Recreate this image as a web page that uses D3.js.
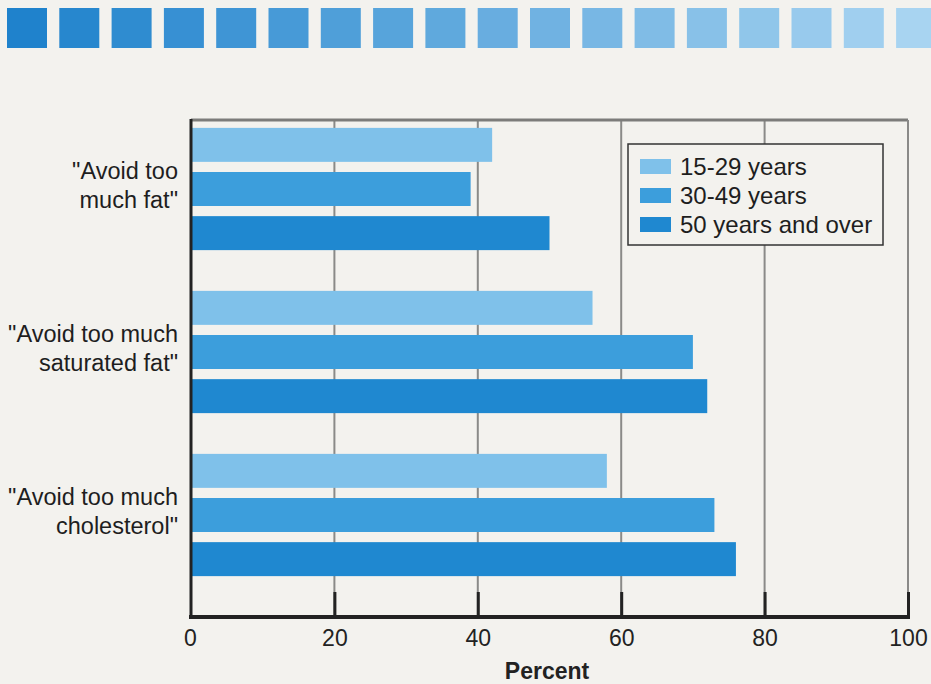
<!DOCTYPE html>
<html><head><meta charset="utf-8">
<script src="https://cdn.jsdelivr.net/npm/d3@7"></script>
<style>html,body{margin:0;padding:0;background:#f3f2ee;}svg{display:block;}</style>
</head><body>
<svg id="c" width="931" height="684"></svg>
<script>
const categories = [["\"Avoid too", "much fat\""], ["\"Avoid too much", "saturated fat\""], ["\"Avoid too much", "cholesterol\""]];
const categoryKeys = ["fat", "satfat", "chol"];
const series = ["15-29 years", "30-49 years", "50 years and over"];
const v_15_29 = [42, 56, 58];
const v_30_49 = [39, 70, 73];
const v_50plus = [50, 72, 76];
const tickValues = [0, 20, 40, 60, 80, 100];
const colors = ["#7fc1ea", "#3c9edc", "#1f88d0"];

const svg = d3.select("#c");
const W = 931, H = 684;
svg.append("rect").attr("width", W).attr("height", H).attr("fill", "#f3f2ee");

// decorative squares strip
const sq = d3.range(18);
const sqColor = d3.interpolateRgb("#1f82cc", "#a8d4f1");
svg.append("g").selectAll("rect").data(sq).join("rect")
  .attr("x", i => 7 + i * 52.3).attr("y", 8).attr("width", 40).attr("height", 40)
  .attr("fill", i => sqColor(i / 17));

const x = d3.scaleLinear().domain([0, 100]).range([191, 908]);
const y0 = d3.scaleBand().domain(categoryKeys).range([107.5, 596.5]).paddingInner(0.25).paddingOuter(0.125);
const y1 = d3.scaleBand().domain(series).range([0, y0.bandwidth()]).paddingInner(0.23);

const plotTop = 120, plotBottom = 617;
const FONT = "Liberation Sans, Arial, Helvetica, sans-serif";

// gridlines
const grid = svg.append("g");
grid.selectAll("line").data(tickValues.filter(d => d > 0 && d < 100)).join("line")
  .attr("x1", d => x(d)).attr("x2", d => x(d)).attr("y1", plotTop).attr("y2", plotBottom)
  .attr("stroke", "#8a8a88").attr("stroke-width", 2);
// top border
svg.append("line").attr("x1", x(0)).attr("x2", x(100)).attr("y1", plotTop).attr("y2", plotTop)
  .attr("stroke", "#7c7c7a").attr("stroke-width", 3);
// right border
svg.append("line").attr("x1", x(100)).attr("x2", x(100)).attr("y1", plotTop).attr("y2", plotBottom)
  .attr("stroke", "#8a8a88").attr("stroke-width", 2);

// bars
const data = categoryKeys.map((k, i) => ({ key: k, vals: [v_15_29[i], v_30_49[i], v_50plus[i]] }));
const gg = svg.append("g").selectAll("g").data(data).join("g")
  .attr("transform", d => `translate(0,${y0(d.key)})`);
gg.selectAll("rect").data(d => d.vals.map((v, j) => ({ s: series[j], v, j }))).join("rect")
  .attr("x", x(0)).attr("y", d => y1(d.s)).attr("height", y1.bandwidth())
  .attr("width", d => x(d.v) - x(0)).attr("fill", d => colors[d.j]);

// bottom axis
const ax = svg.append("g").attr("transform", `translate(0,${plotBottom})`)
  .call(d3.axisBottom(x).tickValues(tickValues).tickSize(0).tickPadding(0));
ax.select(".domain").remove();
ax.selectAll(".tick text").attr("y", 29).attr("dy", 0)
  .attr("font-family", FONT).attr("font-size", 23).attr("fill", "#222");
ax.selectAll(".tick").filter(d => d === 0).select("text").attr("dx", -1);
ax.selectAll(".tick").filter(d => d > 0).append("line")
  .attr("y1", 0).attr("y2", -25).attr("stroke", "#222").attr("stroke-width", 3);
svg.append("line").attr("x1", x(0) - 2).attr("x2", x(100) + 2).attr("y1", plotBottom).attr("y2", plotBottom)
  .attr("stroke", "#222").attr("stroke-width", 4);
// left axis
svg.append("line").attr("x1", x(0)).attr("x2", x(0)).attr("y1", plotTop - 1).attr("y2", plotBottom + 2)
  .attr("stroke", "#222").attr("stroke-width", 3);

svg.append("text").attr("x", 547).attr("y", 679).attr("text-anchor", "middle")
  .attr("font-family", FONT).attr("font-weight", "bold")
  .attr("font-size", 23).attr("fill", "#222").text("Percent");

// category labels
const lab = svg.append("g");
data.forEach((d, i) => {
  const cy = y0(d.key) + y0.bandwidth() / 2 - 4;
  const t = lab.append("text").attr("text-anchor", "end")
    .attr("font-family", FONT).attr("font-size", 23.5).attr("fill", "#1e1e1e");
  categories[i].forEach((line, k) => {
    t.append("tspan").attr("x", 178).attr("y", cy - 14.5 + k * 29 + 8).text(line);
  });
});

// legend
const lg = svg.append("g");
lg.append("rect").attr("x", 628).attr("y", 144).attr("width", 255).attr("height", 101)
  .attr("fill", "#f3f2ee").attr("stroke", "#333").attr("stroke-width", 1.5);
series.forEach((s, i) => {
  lg.append("rect").attr("x", 640).attr("y", 159 + i * 29).attr("width", 31).attr("height", 15).attr("fill", colors[i]);
  lg.append("text").attr("x", 680).attr("y", 175 + i * 29)
    .attr("font-family", FONT).attr("font-size", 24).attr("fill", "#1e1e1e").text(s);
});
</script>
</body></html>
